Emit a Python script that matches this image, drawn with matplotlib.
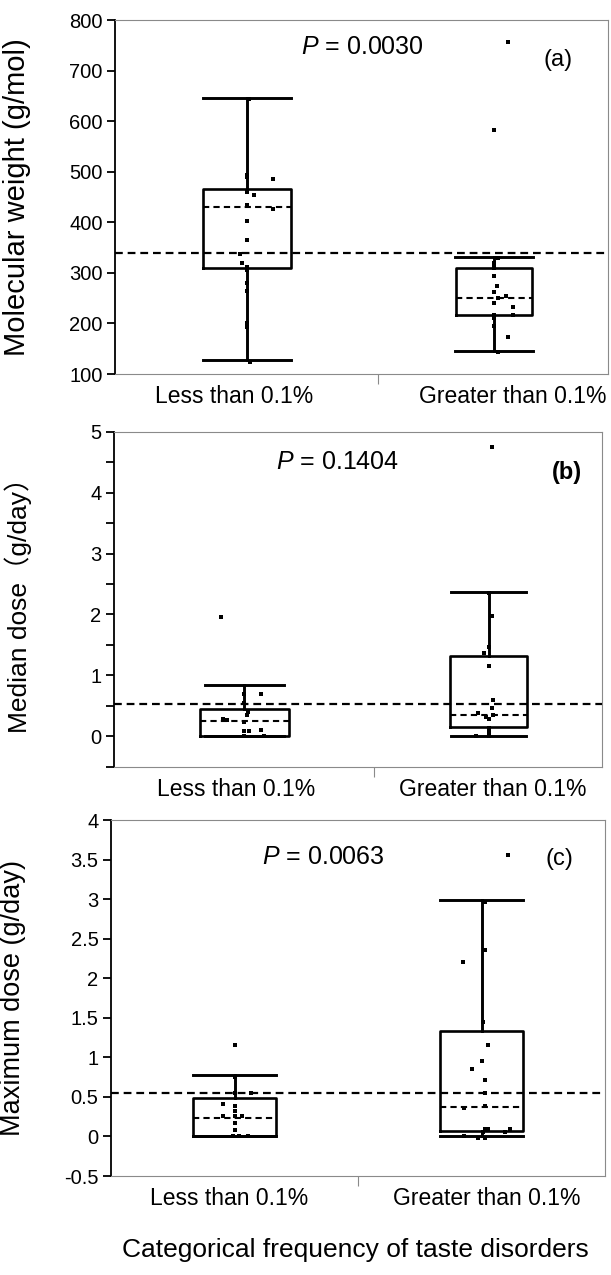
import matplotlib
matplotlib.use('Agg')
import matplotlib.pyplot as plt

plt.rcParams['font.family'] = ['Liberation Sans', 'DejaVu Sans']
plt.rcParams['mathtext.fontset'] = 'custom'
plt.rcParams['mathtext.rm'] = 'Liberation Sans'
plt.rcParams['mathtext.it'] = 'Liberation Sans:italic'

W, H = 611, 1275
GRAY = '#8a8a8a'

groups = ['Less than 0.1%', 'Greater than 0.1%']

# ---- (a) molecular weight ----
mw_less = [643, 494, 490, 485, 459, 454, 434, 426, 403, 364, 338, 320, 312, 306, 280, 265, 200, 192, 123]
mw_less_dx = [0.01, 0, 0, 0.105, 0, 0.028, 0, 0.105, 0, 0, -0.028, -0.018, 0, 0, 0, 0, 0, 0, 0.013]
mw_greater = [756, 583, 329, 319, 312, 309, 294, 274, 263, 254, 251, 240, 232, 217, 217, 210, 194, 173, 143]
mw_greater_dx = [0.058, 0, 0.015, 0, 0, 0, 0, 0.011, 0, 0.05, 0.018, 0, 0.076, 0, 0.076, 0, 0, 0.058, 0.015]
mw_stats = [[127, 310, 430, 466, 645], [146, 217, 251, 309, 332]]  # whislo, q1, med, q3, whishi
mw_mean = 340

# ---- (b) median dose ----
md_less = [1.95, 0.70, 0.69, 0.55, 0.40, 0.35, 0.276, 0.27, 0.24, 0.09, 0.085, 0.11, 0.0, 0.0]
md_less_dx = [-0.097, 0, 0.067, 0, 0.016, 0.009, -0.086, -0.07, 0, 0, 0.02, 0.067, 0, 0.079]
md_greater = [4.754, 2.35, 1.98, 1.46, 1.37, 1.15, 0.59, 0.457, 0.386, 0.35, 0.32, 0.28, 0.14, 0.075, 0.0, 0.0]
md_greater_dx = [0.012, 0, 0.012, 0, -0.019, 0, 0.019, 0.012, -0.045, 0.019, -0.011, 0, 0, 0, -0.05, 0]
md_stats = [[0.0, 0.0, 0.255, 0.446, 0.835], [0.0, 0.156, 0.348, 1.322, 2.373]]
md_mean = 0.528

# ---- (c) maximum dose ----
xd_less = [1.157, 0.75, 0.553, 0.553, 0.404, 0.38, 0.32, 0.256, 0.256, 0.256, 0.17, 0.087, 0.0, 0.0, 0.0]
xd_less_dx = [0, 0, 0, 0.066, -0.046, 0, 0, -0.046, 0, 0.032, 0, 0, -0.008, 0.02, 0.053]
xd_greater = [3.56, 2.96, 2.36, 2.21, 1.45, 1.157, 0.955, 0.85, 0.71, 0.553, 0.38, 0.36,
              0.10, 0.10, 0.10, 0.06, 0.06, 0.0, -0.02, -0.02]
xd_greater_dx = [0.108, 0.014, 0.014, -0.075, 0.007, 0.027, 0, -0.037, 0.014, 0.014, 0.014, -0.072,
                 0.014, 0.027, 0.115, 0.007, 0.095, -0.072, -0.014, 0.014]
xd_stats = [[0.0, 0.01, 0.235, 0.48, 0.777], [0.0, 0.074, 0.375, 1.327, 2.985]]
xd_mean = 0.544

panels = [
    dict(box=(115, 20, 608, 374), xlim=(0.467, 2.461), ylim=(100, 800),
         yticks=list(range(100, 801, 100)), ylabels=[str(v) for v in range(100, 801, 100)],
         yminor=[], ylabel='Molecular weight (g/mol)', ylx=-0.171, ylsize=21,
         pts=[(mw_less, mw_less_dx), (mw_greater, mw_greater_dx)], stats=mw_stats, mean=mw_mean,
         widths=[0.357, 0.31], caps=[0.357, 0.313], lab_x=[0.949, 2.077], mid=1.53,
         ptxt=r'$\it{P}$ = 0.0030', ppos=(362, 47), tag='(a)', tpos=(558, 60), tbold=False),
    dict(box=(114, 431.7, 602, 766.7), xlim=(0.466, 2.464), ylim=(-0.5, 5),
         yticks=[0, 1, 2, 3, 4, 5], ylabels=['0', '1', '2', '3', '4', '5'],
         yminor=[-0.5, 0.5, 1.5, 2.5, 3.5, 4.5], ylabel='Median dose（g/day）', ylx=-0.169, ylsize=19,
         pts=[(md_less, md_less_dx), (md_greater, md_greater_dx)], stats=md_stats, mean=md_mean,
         widths=[0.364, 0.317], caps=[0.324, 0.307], lab_x=[0.968, 2.018], mid=1.53,
         ptxt=r'$\it{P}$ = 0.1404', ppos=(337, 462), tag='(b)', tpos=(567, 473), tbold=True),
    dict(box=(111, 820, 605, 1176), xlim=(0.5, 2.5), ylim=(-0.5, 4),
         yticks=[-0.5, 0, 0.5, 1, 1.5, 2, 2.5, 3, 3.5, 4],
         ylabels=['-0.5', '0', '0.5', '1', '1.5', '2', '2.5', '3', '3.5', '4'],
         yminor=[], ylabel='Maximum dose (g/day)', ylx=-0.172, ylsize=19.5,
         pts=[(xd_less, xd_less_dx), (xd_greater, xd_greater_dx)], stats=xd_stats, mean=xd_mean,
         widths=[0.34, 0.333], caps=[0.337, 0.333], lab_x=[0.98, 2.02], mid=1.5,
         ptxt=r'$\it{P}$ = 0.0063', ppos=(323, 857), tag='(c)', tpos=(559, 859), tbold=False),
]

fig = plt.figure(figsize=(W / 100, H / 100), dpi=100, facecolor='white')

for p in panels:
    l, t, r, b = p['box']
    ax = fig.add_axes([l / W, 1 - b / H, (r - l) / W, (b - t) / H])
    ax.set_xlim(*p['xlim'])
    ax.set_ylim(*p['ylim'])

    stats = [dict(whislo=s[0], q1=s[1], med=s[2], q3=s[3], whishi=s[4], fliers=[]) for s in p['stats']]
    ax.bxp(stats, positions=[1, 2], widths=p['widths'], capwidths=p['caps'], showfliers=False,
           boxprops=dict(color='black', lw=1.9),
           whiskerprops=dict(color='black', lw=2.1),
           capprops=dict(color='black', lw=2.1),
           medianprops=dict(color='black', lw=1.5, dashes=(3, 2)))

    for i, (vals, dx) in enumerate(p['pts']):
        ax.plot([i + 1 + d for d in dx], vals, 's', color='black', ms=3.5, mew=0, zorder=5)

    ax.axhline(p['mean'], color='black', lw=1.6, dashes=(3.5, 2.2), zorder=4)

    # frame
    ax.spines['left'].set_color('black')
    ax.spines['left'].set_linewidth(1.3)
    for s in ['top', 'right', 'bottom']:
        ax.spines[s].set_color(GRAY)
        ax.spines[s].set_linewidth(0.8)

    ax.set_yticks(p['yticks'])
    ax.set_yticklabels(p['ylabels'], fontsize=14.5)
    ax.set_yticks(p['yminor'], minor=True)
    ax.tick_params(axis='y', which='both', direction='out', length=6, width=1.3, pad=3)

    ax.set_xticks([p['mid']])
    ax.set_xticklabels([''])
    ax.tick_params(axis='x', which='major', direction='out', length=7, width=0.8, color=GRAY)
    ax.set_xticks(p['lab_x'], minor=True)
    ax.set_xticklabels(groups, minor=True, fontsize=16.5)
    ax.tick_params(axis='x', which='minor', length=0, pad=8)

    ax.set_ylabel(p['ylabel'], fontsize=p['ylsize'], family=['Liberation Sans', 'Noto Sans CJK JP'])
    ax.yaxis.set_label_coords(p['ylx'], 0.5)

    fig.text(p['ppos'][0] / W, 1 - p['ppos'][1] / H, p['ptxt'], fontsize=18, ha='center', va='center')
    fig.text(p['tpos'][0] / W, 1 - p['tpos'][1] / H, p['tag'], fontsize=17, ha='center', va='center',
             fontweight='bold' if p['tbold'] else 'normal')

fig.text(355 / W, 1 - 1250 / H, 'Categorical frequency of taste disorders', fontsize=19,
         ha='center', va='center')

fig.savefig('out.png', dpi=100, facecolor='white')
